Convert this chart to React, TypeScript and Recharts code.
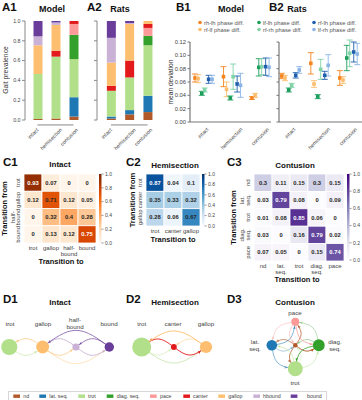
import React from 'react';
import {
  BarChart, Bar, XAxis, YAxis, ReferenceLine, ScatterChart, Scatter, ErrorBar,
  ComposedChart, Line, ZAxis, ReferenceArea, Cell,
} from 'recharts';

const FONT = '"Liberation Sans", Arial, Helvetica, sans-serif';

// ---------- categories ----------
const conditions = ['intact', 'hemisection', 'contusion'];
const gaitKeys = ['nd', 'lat', 'trot', 'diag', 'pace', 'canter', 'gallop', 'hbound', 'bound'];
const gaitNames = ['nd', 'lat. seq.', 'trot', 'diag. seq.', 'pace', 'canter', 'gallop', 'hbound', 'bound'];
const gaitColors = ['#b15928', '#1f78b4', '#b2df8a', '#33a02c', '#fb9a99', '#e31a1c', '#fdbf6f', '#cab2d6', '#6a3d9a'];

// ---------- A: gait prevalence (order = gaitKeys) ----------
const modelIntact = [0.01, 0, 0.455, 0, 0, 0, 0.29, 0.09, 0.155];
const modelHemisection = [0.015, 0, 0.625, 0, 0, 0.06, 0.26, 0.025, 0.015];
const modelContusion = [0.035, 0.195, 0.385, 0.245, 0.11, 0.03, 0, 0, 0];
const ratsIntact = [0.015, 0.02, 0.26, 0, 0, 0.05, 0.235, 0.25, 0.17];
const ratsHemisection = [0.057, 0.043, 0.33, 0, 0, 0.17, 0.37, 0.01, 0.02];
const ratsContusion = [0.08, 0.165, 0.51, 0.095, 0.08, 0.04, 0.03, 0, 0];
const prevalenceTicks = [0, 0.2, 0.4, 0.6, 0.8, 1.0];

// ---------- B: mean deviation of phase differences ----------
const phaseNames = ['rh-lh phase diff.', 'rf-lf phase diff.', 'lf-lh phase diff.', 'rf-rh phase diff.', 'rf-lh phase diff.', 'lf-rh phase diff.'];
const phaseColors = ['#f5841f', '#fdbd6e', '#1b9e5a', '#7fd3a6', '#1f5fad', '#8ab4e6'];
const deviationTicks = [0, 0.02, 0.04, 0.06, 0.08, 0.1, 0.12];
// model (intact, hemisection, contusion)
const mRhLh = [0.066, 0.068, 0.036], mRhLhErr = [0.006, 0.015, 0.002];
const mRfLf = [0.065, 0.049, 0.040], mRfLfErr = [0.006, 0.011, 0.003];
const mLfLh = [0.043, 0.036, 0.082], mLfLhErr = [0.003, 0.003, 0.013];
const mRfRh = [0.048, 0.068, 0.083], mRfRhErr = [0.003, 0.019, 0.012];
const mRfLh = [0.064, 0.057, 0.083], mRfLhErr = [0.006, 0.012, 0.013];
const mLfRh = [0.064, 0.055, 0.082], mLfRhErr = [0.006, 0.018, 0.014];
// rats
const rRhLh = [0.069, 0.088, 0.066], rRhLhErr = [0.004, 0.016, 0.011];
const rRfLf = [0.066, 0.057, 0.063], rRfLfErr = [0.004, 0.005, 0.005];
const rLfLh = [0.048, 0.038, 0.096], rLfLhErr = [0.003, 0.003, 0.019];
const rRfRh = [0.055, 0.079, 0.103], rRfRhErr = [0.003, 0.015, 0.02];
const rRfLh = [0.070, 0.070, 0.105], rRfLhErr = [0.004, 0.006, 0.015];
const rLfRh = [0.078, 0.085, 0.102], rLfRhErr = [0.005, 0.016, 0.016];
const dodge = [-0.3, -0.19, -0.06, 0.04, 0.18, 0.3];

// ---------- C: transition matrices ----------
const c1Labels = [['trot'], ['gallop'], ['half-', 'bound'], ['bound']];
const c1Matrix = [[0.93, 0.07, 0, 0], [0.12, 0.71, 0.12, 0.05], [0, 0.32, 0.4, 0.28], [0, 0.13, 0.12, 0.75]];
const c2Labels = [['trot'], ['canter'], ['gallop']];
const c2Matrix = [[0.87, 0.04, 0.1], [0.35, 0.33, 0.32], [0.28, 0.06, 0.67]];
const c3Labels = [['nd'], ['lat.', 'seq.'], ['trot'], ['diag.', 'seq.'], ['pace']];
const c3Matrix = [
  [0.3, 0.11, 0.15, 0.3, 0.15],
  [0.03, 0.79, 0.08, 0, 0.09],
  [0.01, 0.08, 0.85, 0.06, 0],
  [0.03, 0, 0.16, 0.79, 0.02],
  [0.07, 0.05, 0, 0.15, 0.74],
];
const colorbarTicks = [0, 0.2, 0.4, 0.6, 0.8, 1.0];
const ORANGES = ['#fff5eb', '#fee6ce', '#fdd0a2', '#fdae6b', '#fd8d3c', '#f16913', '#d94801', '#a63603', '#7f2704'];
const BLUES = ['#f7fbff', '#deebf7', '#c6dbef', '#9ecae1', '#6baed6', '#4292c6', '#2171b5', '#08519c', '#08306b'];
const PURPLES = ['#fcfbfd', '#efedf5', '#dadaeb', '#bcbddc', '#9e9ac8', '#807dba', '#6a51a3', '#54278f', '#3f007d'];

// ---------- D: network layouts (gait index, abstract positions) ----------
const d1Gaits = [2, 6, 7, 8];
const d1X = [0, 1, 2, 3];
const d1Y = [0, 0, 0, 0];
const d2Gaits = [2, 5, 6];
const d2X = [0, 1, 2];
const d2Y = [0, 0, 0];
const d3Gaits = [0, 1, 2, 3, 4];
const d3X = [0, -1, 0, 1, 0];
const d3Y = [0, 0, 1, 0, -1];

// ---------- helpers ----------
const hex = (h: string) => [1, 3, 5].map((i) => parseInt(h.slice(i, i + 2), 16));
function cmap(stops: string[], t: number) {
  const s = Math.max(0, Math.min(1, t)) * (stops.length - 1);
  const i = Math.min(stops.length - 2, Math.floor(s));
  const f = s - i;
  const a = hex(stops[i]), b = hex(stops[i + 1]);
  const c = a.map((v, k) => Math.round(v + (b[k] - v) * f));
  return { css: `rgb(${c[0]},${c[1]},${c[2]})`, rgb: c };
}
function luminance(rgb: number[]) {
  const l = rgb.map((v) => {
    const x = v / 255;
    return x <= 0.03928 ? x / 12.92 : Math.pow((x + 0.055) / 1.055, 2.4);
  });
  return 0.2126 * l[0] + 0.7152 * l[1] + 0.0722 * l[2];
}
const CW: Record<string, number> = { i: 0.222, l: 0.222, j: 0.222, t: 0.278, f: 0.278, r: 0.333, ' ': 0.278, '.': 0.278, '-': 0.333, s: 0.5, c: 0.5, v: 0.5, k: 0.5, m: 0.833 };
const textW = (s: string, fs: number) => { let w = 0; for (const ch of s) w += CW[ch] ?? 0.556; return w * fs; };
const box = (left: number, top: number, width: number, height: number): React.CSSProperties => ({ position: 'absolute', left, top, width, height });
const fmtVal = (v: number) => String(Number(v.toFixed(2)));

// rotated (-45deg) category tick, bbox centred at tick x + shift
const makeCatTick = (shiftX: number, topOff: number, fs: number) => (props: any) => {
  const { x, y, payload } = props;
  const label = typeof payload.value === 'number' ? conditions[payload.value] : payload.value;
  const half = (textW(label, fs) + fs) * 0.3536;
  const cx = x + shiftX, cy = y + topOff + half;
  return (
    <text x={cx} y={cy} transform={`rotate(-45 ${cx} ${cy})`} textAnchor="middle" dominantBaseline="central"
      fontSize={fs} fill="#444" fontFamily={FONT}>{label}</text>
  );
};

// ---------- A ----------
function PrevalenceChart({ rows, left, width, yw, padL, bandW, showLabels }: any) {
  const data = conditions.map((c, ci) => {
    const o: any = { cond: c };
    gaitKeys.forEach((k, gi) => { o[k] = rows[ci][gi]; });
    return o;
  });
  const mr = width - (yw + padL + bandW * 3);
  return (
    <div style={box(left, 0, width, 150)}>
      <BarChart width={width} height={150} data={data} margin={{ top: 21, right: mr, bottom: 0, left: 0 }} barSize={9}>
        <XAxis dataKey="cond" height={30} axisLine={false} tickLine={false} tickSize={0} tickMargin={0}
          padding={{ left: padL, right: 0 }} interval={0} tick={makeCatTick(-4.5, 7, 5.3)} />
        <YAxis width={yw} domain={[0, 1]} ticks={prevalenceTicks} allowDataOverflow interval={0}
          tickSize={3} tickMargin={1.5} axisLine={{ stroke: '#888' }} tickLine={{ stroke: '#888' }}
          tick={{ fontSize: 5.3, fill: '#444', fontFamily: FONT }}
          tickFormatter={(v: number) => (showLabels ? v.toFixed(1) : '')} />
        {gaitKeys.map((k, gi) => (
          <Bar key={k} dataKey={k} name={gaitNames[gi]} stackId="a" fill={gaitColors[gi]} isAnimationActive={false} />
        ))}
        <ReferenceLine segment={[{ x: 'intact', y: -0.05 }, { x: 'contusion', y: -0.05 }]} ifOverflow="visible" stroke="#888" />
      </BarChart>
    </div>
  );
}

// ---------- B ----------
const squareShape = (p: any) => <rect x={p.cx - 1.8} y={p.cy - 1.8} width={3.6} height={3.6} fill={p.fill} />;

function PhaseChart({ left, width, yw, mr, xDomain, means, errs, showLabels }: any) {
  return (
    <div style={box(left, 30, width, 125)}>
      <ScatterChart width={width} height={125} margin={{ top: 12, right: mr, bottom: 0, left: 0 }}>
        <XAxis type="number" dataKey="x" domain={xDomain} ticks={[0, 1, 2]} allowDataOverflow height={33} interval={0}
          tickLine={false} tickSize={0} tickMargin={0} axisLine={{ stroke: '#777', strokeWidth: 1.2 }}
          tick={makeCatTick(-0.5, 4.5, 5.3)} />
        <YAxis type="number" dataKey="y" domain={[0, 0.12]} ticks={deviationTicks} allowDataOverflow width={yw} interval={0}
          tickSize={2.5} tickMargin={1.5} axisLine={{ stroke: '#777', strokeWidth: 1.2 }} tickLine={{ stroke: '#777' }}
          tick={{ fontSize: 5.8, fill: '#444', fontFamily: FONT }}
          tickFormatter={(v: number) => (showLabels ? v.toFixed(2) : '')} />
        {phaseNames.map((name, si) => (
          <Scatter key={name} name={name} fill={phaseColors[si]} shape={squareShape} isAnimationActive={false}
            data={conditions.map((c, ci) => ({ x: ci + dodge[si], y: means[si][ci], err: errs[si][ci] }))}>
            <ErrorBar dataKey="err" direction="y" width={3} stroke={phaseColors[si]} strokeWidth={0.9} />
          </Scatter>
        ))}
      </ScatterChart>
    </div>
  );
}

// ---------- C ----------
function Heatmap({ left, top, width, height, yw, xh, mr, labels, matrix, stops }: any) {
  const n = labels.length;
  const data: any[] = [];
  matrix.forEach((row: number[], r: number) => row.forEach((v, c) => data.push({ x: c, y: r, v })));
  const mt = 34;
  const cw = (width - yw - mr) / n;
  const ch = (height - mt - xh) / n;
  const idx = Array.from({ length: n }, (_, i) => i);
  const cell = (p: any) => {
    const col = cmap(stops, p.payload.v);
    const dark = luminance(col.rgb) < 0.205;
    return (
      <g>
        <rect x={p.cx - cw / 2} y={p.cy - ch / 2} width={cw} height={ch} fill={col.css} stroke="#fff" strokeWidth={0.8} />
        <text x={p.cx} y={p.cy} textAnchor="middle" dominantBaseline="central" fontSize={5.8} fontWeight="bold"
          fill={dark ? '#fff' : '#262626'} fontFamily={FONT}>{fmtVal(p.payload.v)}</text>
      </g>
    );
  };
  const xTick = (p: any) => {
    const lines = labels[p.payload.value];
    return (
      <g>
        {lines.map((l: string, i: number) => (
          <text key={i} x={p.x} y={p.y + 5 + i * 5.5} textAnchor="middle" dominantBaseline="central" fontSize={6}
            fill="#444" fontFamily={FONT}>{l}</text>
        ))}
      </g>
    );
  };
  const yTick = (p: any) => {
    const lines = labels[p.payload.value];
    const k = lines.length;
    return (
      <g>
        {lines.map((l: string, i: number) => {
          const bx = p.x - 6 - (k - 1 - i) * 5.5;
          return (
            <text key={i} x={bx} y={p.y} transform={`rotate(-90 ${bx} ${p.y})`} textAnchor="middle" dominantBaseline="central"
              fontSize={6} fill="#444" fontFamily={FONT}>{l}</text>
          );
        })}
      </g>
    );
  };
  return (
    <div style={box(left, top, width, height)}>
      <ScatterChart width={width} height={height} margin={{ top: mt, right: mr, bottom: 0, left: 0 }}>
        <XAxis type="number" dataKey="x" domain={[-0.5, n - 0.5]} ticks={idx} interval={0} height={xh}
          axisLine={false} tickLine={false} tickSize={0} tickMargin={0} tick={xTick} />
        <YAxis type="number" dataKey="y" domain={[-0.5, n - 0.5]} ticks={idx} interval={0} width={yw} reversed
          axisLine={false} tickLine={false} tickSize={0} tickMargin={0} tick={yTick} />
        <Scatter data={data} shape={cell} isAnimationActive={false} />
      </ScatterChart>
    </div>
  );
}

function Colorbar({ id, stops, left, top, height }: any) {
  const W = 24;
  return (
    <div style={box(left, top - 10, W, height + 20)}>
      <ComposedChart width={W} height={height + 20} margin={{ top: 10, right: 0, bottom: 10, left: 4 }}
        data={colorbarTicks.map((t) => ({ x: 0.5, y: t }))}>
        <defs>
          <linearGradient id={id} x1="0" y1="1" x2="0" y2="0">
            {stops.map((c: string, i: number) => <stop key={i} offset={i / (stops.length - 1)} stopColor={c} />)}
          </linearGradient>
        </defs>
        <XAxis type="number" dataKey="x" domain={[0, 1]} hide />
        <YAxis type="number" dataKey="y" orientation="right" domain={[0, 1]} ticks={colorbarTicks} interval={0}
          width={17.5} axisLine={false} tickSize={2} tickMargin={1.5} tickLine={{ stroke: '#555', strokeWidth: 0.6 }}
          tick={{ fontSize: 5, fill: '#444', fontFamily: FONT }} tickFormatter={(v: number) => v.toFixed(1)} />
        <ReferenceArea x1={0} x2={1} y1={0} y2={1} fill={`url(#${id})`} fillOpacity={1} stroke="none" ifOverflow="visible" />
        <Scatter dataKey="y" fill="none" shape={() => <g />} isAnimationActive={false} />
      </ComposedChart>
    </div>
  );
}

// ---------- D ----------
const NODE_K = 12; // px radius for prevalence 1 (sqrt scale)
const ARC = 0.25;

function Network({ left, top, width, height, margin, xDomain, yDomain, gaits, xs, ys, matrix, prevalence }: any) {
  const nodes = gaits.map((g: number, i: number) => ({ x: xs[i], y: ys[i], p: prevalence[g], g }));
  const edges: any[] = [];
  matrix.forEach((row: number[], i: number) => row.forEach((w, j) => {
    if (i === j || w <= 0) return;
    const a = nodes[i], b = nodes[j];
    const dx = b.x - a.x, dy = b.y - a.y;
    const len = Math.hypot(dx, dy);
    const nx = -dy / len, ny = dx / len;
    const mx = (a.x + b.x) / 2 + nx * ARC * len, my = (a.y + b.y) / 2 + ny * ARC * len;
    const tx = (b.x - mx) + 0.25 * (a.x - 2 * mx + b.x);
    const ty = (b.y - my) + 0.25 * (a.y - 2 * my + b.y);
    edges.push({
      key: `${i}-${j}`, color: gaitColors[a.g], op: Math.min(1, 0.3 + 3.5 * w),
      data: [{ x: a.x, y: a.y }, { x: mx, y: my }, { x: b.x, y: b.y, tx, ty, r: NODE_K * Math.sqrt(b.p) }],
    });
  }));
  const arrow = (color: string, op: number) => (p: any) => {
    if (p.index !== 2) return <g key={`d${p.index}`} />;
    const q = p.payload;
    const l = Math.hypot(q.tx, q.ty);
    const ux = q.tx / l, uy = q.ty / l;
    const tx = p.cx - ux * (q.r + 0.2), ty = p.cy - uy * (q.r + 0.2);
    const bx = tx - ux * 3, by = ty - uy * 3;
    const px = -uy * 1.3, py = ux * 1.3;
    return <path key="arrow" d={`M${tx},${ty}L${bx + px},${by + py}L${bx - px},${by - py}Z`} fill={color} fillOpacity={op} />;
  };
  return (
    <div style={box(left, top, width, height)}>
      <ComposedChart width={width} height={height} margin={margin}>
        <XAxis type="number" dataKey="x" domain={xDomain} hide />
        <YAxis type="number" dataKey="y" domain={yDomain} reversed hide />
        <ZAxis type="number" dataKey="p" domain={[0, 1]} range={[0, NODE_K * NODE_K * Math.PI]} />
        {edges.map((e) => (
          <Line key={e.key} data={e.data} dataKey="y" type="natural" stroke={e.color} strokeOpacity={e.op} strokeWidth={0.9}
            dot={arrow(e.color, e.op)} activeDot={false} isAnimationActive={false} legendType="none" />
        ))}
        <Scatter data={nodes} shape="circle" isAnimationActive={false}>
          {nodes.map((nd: any, i: number) => <Cell key={i} fill={gaitColors[nd.g]} />)}
        </Scatter>
      </ComposedChart>
    </div>
  );
}

// ---------- text overlay ----------
function T({ x, y, children, size = 6, weight = 'normal', anchor = 'middle', rotate = 0, fill = '#222' }: any) {
  return (
    <text x={x} y={y} fontSize={size} fontWeight={weight} textAnchor={anchor} dominantBaseline="central" fill={fill}
      fontFamily={FONT} transform={rotate ? `rotate(${rotate} ${x} ${y})` : undefined}>{children}</text>
  );
}

const legendX = [13.3, 39.3, 78.3, 106.7, 150, 183.3, 218.3, 253.3, 290.7];
const legendTextX = [23.3, 49.3, 88, 116.7, 160, 193, 228.3, 263, 307];

function Overlay() {
  const panel = (s: string, x: number, y: number) => <T key={s} x={x} y={y} size={11.5} weight="bold" anchor="start" fill="#111">{s}</T>;
  return (
    <svg width={362} height={400} style={{ position: 'absolute', left: 0, top: 0, pointerEvents: 'none' }}>
      {panel('A1', 2, 7)}{panel('A2', 87, 7)}{panel('B1', 176, 7)}{panel('B2', 269, 7)}
      {panel('C1', 3, 162)}{panel('C2', 126, 162)}{panel('C3', 227, 162)}
      {panel('D1', 3, 299)}{panel('D2', 126, 299)}{panel('D3', 227, 299)}
      <T x={52} y={8.5} size={9} weight="bold" fill="#111">Model</T>
      <T x={120} y={8.5} size={9} weight="bold" fill="#111">Rats</T>
      <T x={231} y={8.5} size={9} weight="bold" fill="#111">Model</T>
      <T x={297} y={8.5} size={9} weight="bold" fill="#111">Rats</T>
      <T x={5} y={70} size={6.8} rotate={-90} fill="#333">Gait prevalence</T>
      <T x={170} y={82} size={6.6} rotate={-90} fill="#333">mean deviation</T>
      {phaseNames.map((nm, si) => {
        const col = Math.floor(si / 2), row = si % 2;
        const mx = [200, 259, 314][col], my = [22.5, 29.5][row];
        return (
          <g key={nm}>
            <circle cx={mx} cy={my} r={1.8} fill={phaseColors[si]} />
            <T x={mx + 4} y={my} size={5.8} anchor="start" fill="#555">{nm}</T>
          </g>
        );
      })}
      <T x={60} y={164.5} size={8} weight="bold" fill="#111">Intact</T>
      <T x={175} y={165} size={8} weight="bold" fill="#111">Hemisection</T>
      <T x={295} y={165} size={8} weight="bold" fill="#111">Contusion</T>
      <T x={4} y={208.5} size={7.5} weight="bold" rotate={-90} fill="#111">Transition from</T>
      <T x={132} y={200} size={7.5} weight="bold" rotate={-90} fill="#111">Transition from</T>
      <T x={233} y={217.5} size={7.5} weight="bold" rotate={-90} fill="#111">Transition from</T>
      <T x={61} y={261} size={7.5} weight="bold" fill="#111">Transition to</T>
      <T x={173} y={239} size={7.5} weight="bold" fill="#111">Transition to</T>
      <T x={297} y={279} size={7.5} weight="bold" fill="#111">Transition to</T>
      <T x={60} y={302} size={8} weight="bold" fill="#111">Intact</T>
      <T x={175} y={302} size={8} weight="bold" fill="#111">Hemisection</T>
      <T x={295} y={302} size={8} weight="bold" fill="#111">Contusion</T>
      <T x={10} y={323} size={6.2} fill="#444">trot</T>
      <T x={43} y={323} size={6.2} fill="#444">gallop</T>
      <T x={75} y={319} size={6.2} fill="#444">half-</T>
      <T x={75} y={326} size={6.2} fill="#444">bound</T>
      <T x={109} y={323} size={6.2} fill="#444">bound</T>
      <T x={141.7} y={323} size={6.2} fill="#444">trot</T>
      <T x={173} y={323} size={6.2} fill="#444">canter</T>
      <T x={206} y={323} size={6.2} fill="#444">gallop</T>
      <T x={295} y={312} size={6.2} fill="#444">pace</T>
      <T x={255} y={341} size={6.2} fill="#444">lat.</T>
      <T x={255} y={348} size={6.2} fill="#444">seq.</T>
      <T x={335} y={341} size={6.2} fill="#444">diag.</T>
      <T x={335} y={348} size={6.2} fill="#444">seq.</T>
      <T x={295} y={382} size={6.2} fill="#444">trot</T>
      <rect x={8.5} y={391.5} width={318} height={12} fill="none" stroke="#999" strokeWidth={0.8} strokeDasharray="1 1" />
      {gaitNames.map((g, gi) => (
        <g key={g}>
          <rect x={legendX[gi]} y={394.5} width={6.7} height={3.4} fill={gaitColors[gi]} />
          <T x={legendTextX[gi]} y={396.2} size={5.3} anchor="start" fill="#444">{g}</T>
        </g>
      ))}
    </svg>
  );
}

export default function App() {
  return (
    <div style={{ position: 'absolute', left: 0, top: 0, width: 362, height: 400, background: '#fff', overflow: 'hidden', fontFamily: FONT }}>
      <PrevalenceChart rows={[modelIntact, modelHemisection, modelContusion]} left={0} width={100} yw={25} padL={3.5} bandW={18} showLabels />
      <PrevalenceChart rows={[ratsIntact, ratsHemisection, ratsContusion]} left={80} width={90} yw={17} padL={4.85} bandW={18.3} showLabels={false} />
      <PhaseChart left={150} width={125} yw={40} mr={4} xDomain={[-0.474, 2.368]} showLabels
        means={[mRhLh, mRfLf, mLfLh, mRfRh, mRfLh, mLfRh]} errs={[mRhLhErr, mRfLfErr, mLfLhErr, mRfRhErr, mRfLhErr, mLfRhErr]} />
      <PhaseChart left={250} width={112} yw={29} mr={0} xDomain={[-0.397, 2.465]} showLabels={false}
        means={[rRhLh, rRfLf, rLfLh, rRfRh, rRfLh, rLfRh]} errs={[rRhLhErr, rRfLfErr, rLfLhErr, rRfRhErr, rRfLhErr, rLfRhErr]} />
      <Heatmap left={0} top={140} width={100} height={130} yw={24} xh={27} mr={4} labels={c1Labels} matrix={c1Matrix} stops={ORANGES} />
      <Heatmap left={120} top={140} width={82} height={110} yw={26} xh={24} mr={2} labels={c2Labels} matrix={c2Matrix} stops={BLUES} />
      <Heatmap left={228} top={140} width={118} height={150} yw={26} xh={29} mr={2} labels={c3Labels} matrix={c3Matrix} stops={PURPLES} />
      <Colorbar id="cbOr" stops={ORANGES} left={95} top={174} height={69} />
      <Colorbar id="cbBl" stops={BLUES} left={198} top={174} height={52} />
      <Colorbar id="cbPu" stops={PURPLES} left={343} top={174} height={86} />
      <Network left={0} top={320} width={120} height={50} margin={{ top: 7, right: 10.7, bottom: 3, left: 9.3 }}
        xDomain={[0, 3]} yDomain={[-0.6, 0.6]} gaits={d1Gaits} xs={d1X} ys={d1Y} matrix={c1Matrix} prevalence={modelIntact} />
      <Network left={120} top={320} width={100} height={50} margin={{ top: 7, right: 14, bottom: 3, left: 21.7 }}
        xDomain={[0, 2]} yDomain={[-0.622, 0.622]} gaits={d2Gaits} xs={d2X} ys={d2Y} matrix={c2Matrix} prevalence={modelHemisection} />
      <Network left={230} top={300} width={130} height={90} margin={{ top: 10.05, right: 29.45, bottom: 9.45, left: 30.05 }}
        xDomain={[-1.5, 1.5]} yDomain={[-1.5, 1.5]} gaits={d3Gaits} xs={d3X} ys={d3Y} matrix={c3Matrix} prevalence={modelContusion} />
      <Overlay />
    </div>
  );
}
